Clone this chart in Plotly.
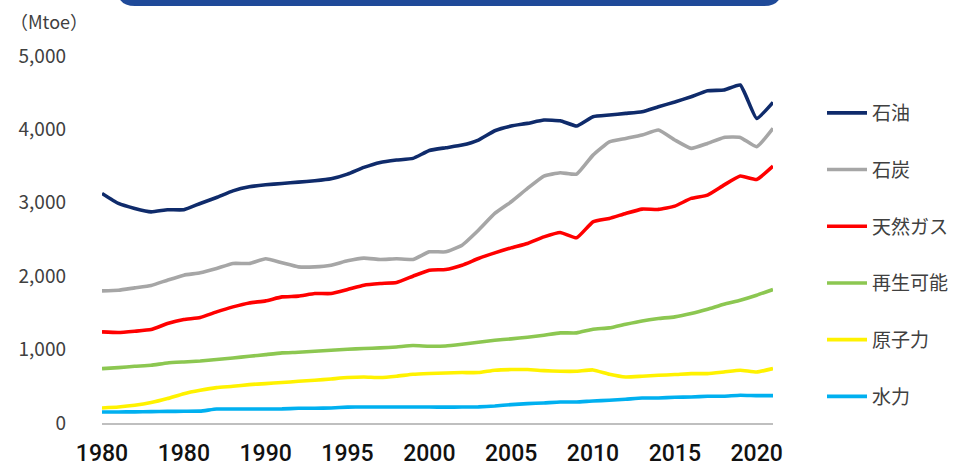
import plotly.graph_objects as go

# World primary energy consumption by source, 1980-2021 (Mtoe)
years = list(range(1980, 2022))

oil = [3128, 2991, 2923, 2877, 2905, 2905, 2991, 3073, 3163, 3218,
       3245, 3264, 3282, 3300, 3327, 3391, 3482, 3550, 3582, 3605,
       3712, 3750, 3786, 3855, 3982, 4046, 4082, 4127, 4118, 4046,
       4173, 4196, 4218, 4241, 4309, 4373, 4445, 4527, 4536, 4605,
       4150, 4369]
coal = [1800, 1809, 1841, 1873, 1946, 2014, 2046, 2105, 2173, 2173,
        2237, 2182, 2127, 2127, 2150, 2209, 2246, 2228, 2237, 2228,
        2332, 2332, 2423, 2627, 2855, 3014, 3196, 3364, 3409, 3391,
        3650, 3831, 3877, 3923, 3991, 3855, 3741, 3809, 3891, 3891,
        3763, 4014]
gas = [1241, 1232, 1250, 1273, 1355, 1410, 1437, 1514, 1582, 1636,
       1664, 1718, 1728, 1764, 1764, 1818, 1877, 1900, 1914, 2000,
       2082, 2091, 2150, 2241, 2318, 2386, 2446, 2536, 2596, 2523,
       2741, 2787, 2855, 2914, 2910, 2955, 3060, 3105, 3241, 3364,
       3318, 3500]
renewables = [741, 755, 773, 787, 818, 832, 845, 864, 886, 909,
              932, 955, 964, 978, 991, 1005, 1014, 1023, 1036, 1055,
              1046, 1050, 1073, 1100, 1128, 1146, 1169, 1196, 1228, 1228,
              1278, 1296, 1346, 1391, 1423, 1446, 1491, 1550, 1618, 1673,
              1741, 1819]
nuclear = [205, 218, 241, 278, 333, 400, 446, 482, 500, 523,
           537, 551, 568, 582, 600, 619, 627, 619, 637, 664,
           675, 682, 687, 687, 719, 728, 728, 714, 705, 705,
           723, 664, 627, 637, 650, 660, 673, 673, 695, 719,
           695, 741]
hydro = [150, 150, 152, 155, 158, 160, 162, 190, 190, 190,
         190, 192, 200, 200, 205, 216, 218, 218, 218, 218,
         218, 216, 218, 220, 232, 250, 264, 273, 286, 286,
         300, 309, 323, 341, 341, 350, 355, 364, 364, 378,
         373, 373]

series_names = ["石油", "石炭", "天然ガス", "再生可能", "原子力", "水力"]
series_values = [oil, coal, gas, renewables, nuclear, hydro]
series_colors = ["#0F2B6B", "#A6A6A6", "#FF0000", "#8CC751", "#FFF200", "#00B0F0"]

x_tick_vals = [1980, 1985, 1990, 1995, 2000, 2005, 2010, 2015, 2020]
x_tick_text = ["1980", "1980", "1990", "1995", "2000", "2005", "2010", "2015", "2020"]
y_tick_vals = [0, 1000, 2000, 3000, 4000, 5000]
y_tick_text = ["0", "1,000", "2,000", "3,000", "4,000", "5,000"]

JP = "Noto Sans CJK JP"

fig = go.Figure()
for i, (name, vals, col) in enumerate(zip(series_names, series_values, series_colors)):
    fig.add_trace(go.Scatter(
        x=years, y=vals, name=name, mode="lines",
        line=dict(color=col, width=3.6, shape="spline", smoothing=0.4),
        legendgroup=f"g{i}",
    ))

# plot-area geometry in pixels, used to place the banner shape
L, R, T, B = 102, 188, 56, 46
W, H = 961 - L - R, 469 - T - B


def px_to_paper(px, py):
    return (px - L) / W, (469 - B - py) / H


# rounded banner along the top edge
bx0, by_bot = px_to_paper(117, 6)
bx1, by_top = px_to_paper(782, -30)
rx = 18 / W
ry = 18 / H
banner_path = (
    f"M {bx0},{by_top} L {bx0},{by_bot + ry} "
    f"Q {bx0},{by_bot} {bx0 + rx},{by_bot} "
    f"L {bx1 - rx},{by_bot} Q {bx1},{by_bot} {bx1},{by_bot + ry} "
    f"L {bx1},{by_top} Z"
)
fig.add_shape(type="path", path=banner_path, xref="paper", yref="paper",
              fillcolor="#1F4A99", line=dict(width=0), layer="above")

ux, uy = px_to_paper(8, 21)
fig.add_annotation(text="（Mtoe）", xref="paper", yref="paper", x=ux, y=uy,
                   xanchor="left", yanchor="middle", showarrow=False,
                   font=dict(family=JP, size=18, color="#404040"))

lx, ly = px_to_paper(822, 94)
fig.update_layout(
    width=961, height=469,
    margin=dict(l=L, r=R, t=T, b=B, autoexpand=False),
    paper_bgcolor="white", plot_bgcolor="white",
    showlegend=True,
    legend=dict(x=lx, y=ly, xanchor="left", yanchor="top",
                font=dict(family=JP, size=19, color="#404040"),
                tracegroupgap=29, itemwidth=40, bgcolor="rgba(0,0,0,0)"),
    xaxis=dict(range=[1980, 2021], tickvals=x_tick_vals, ticktext=x_tick_text,
               showgrid=False, zeroline=False, showline=True, linecolor="#BFBFBF",
               linewidth=1.5, ticks="", ticklabelstandoff=9,
               tickfont=dict(family="Roboto", size=23, color="#111111", weight=500)),
    yaxis=dict(range=[0, 5000], tickvals=y_tick_vals, ticktext=y_tick_text,
               showgrid=False, zeroline=False, showline=False, ticks="",
               ticklabelstandoff=35,
               tickfont=dict(family=JP, size=19, color="#404040")),
)

fig.write_html("out.html")
